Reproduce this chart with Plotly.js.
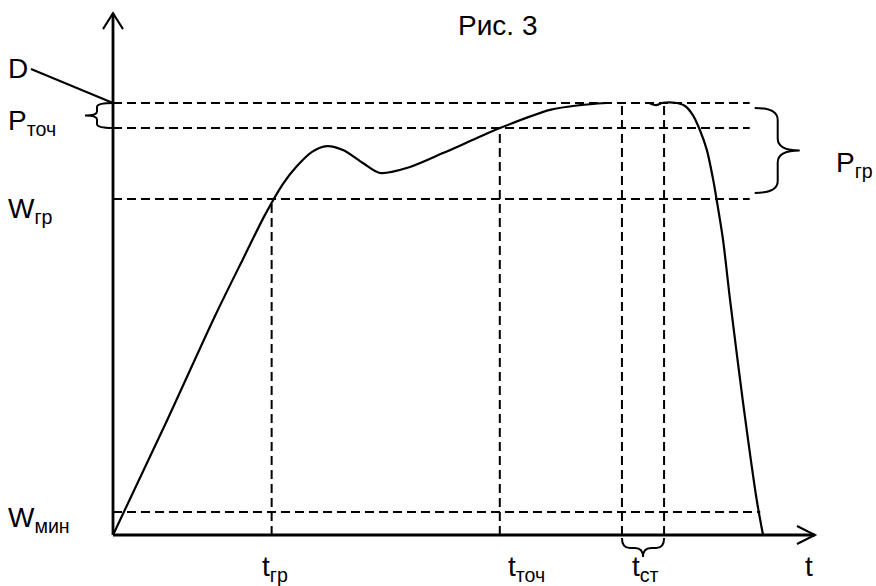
<!DOCTYPE html>
<html>
<head>
<meta charset="utf-8">
<script src="https://cdn.plot.ly/plotly-3.0.1.min.js"></script>
<style>html,body{margin:0;padding:0;background:#fff;}#chart{width:876px;height:586px;}</style>
</head>
<body>
<div id="chart"></div>
<script>
// ---- data (schematic units: t along x, W along y) ----
const curveT1 = [0, 7.41, 14.53, 18.52, 21.65, 24.22, 26.21, 28.35, 30.48, 32.76, 35.61, 38.03, 42.31, 47.01, 51.85, 55.13, 62.25, 66.5, 70.37];
const curveW1 = [0, 25.5, 50.7, 63.9, 74.1, 81.3, 85.4, 88.7, 90.0, 89.1, 86.1, 83.8, 85.2, 88.4, 91.9, 94.2, 98.4, 99.5, 100];
const curveT2 = [76.5, 77.35, 78.35, 80.06, 81.48, 82.6, 83.6, 84.6, 85.5, 86.0, 86.9, 87.9, 89.7, 91.7, 92.6];
const curveW2 = [99.9, 99.5, 100.05, 100.05, 99.3, 97.2, 93.75, 89.1, 82.2, 77.5, 68.3, 54.4, 31.3, 8.1, 0];

const levelNames = ['D', 'P<sub>точ</sub>', 'W<sub>гр</sub>', 'W<sub>мин</sub>'];
const levelValues = [100, 94.2, 77.8, 5.3];
const levelEnds = [90.7, 90.7, 90.7, 92.2];

const timeNames = ['t<sub>гр</sub>', 't<sub>точ</sub>', 't<sub>ст</sub>', 't<sub>ст</sub>'];
const timeValues = [22.6, 55.1, 72.5, 78.5];
const timeTops = [77.8, 94.2, 100, 100];

const axisTMax = 100, axisWMax = 120.8;
const titleText = 'Рис. 3';

// ---- geometry helpers (pixel scale of the drawing) ----
const W = 876, H = 586;
const OX = 113, OY = 535;          // origin in pixels
const SX = 7.02, SY = 4.32;        // pixels per unit
const toT = px => (px - OX) / SX;
const toW = py => (OY - py) / SY;
const pxT = t => OX + t * SX;
const pyW = w => OY - w * SY;
const pt = (px, py) => toT(px) + ',' + toW(py);

const FONT = {family: 'Liberation Sans, Arial, sans-serif', size: 28, color: '#000'};
const traces = [];

// dashed guide lines
const dashLine = {color: '#000', width: 2, dash: '9px,5px'};
for (let i = 0; i < levelValues.length; i++) {
  traces.push({x: [0, levelEnds[i]], y: [levelValues[i], levelValues[i]], mode: 'lines', line: dashLine, hoverinfo: 'skip'});
}
for (let i = 0; i < timeValues.length; i++) {
  traces.push({x: [timeValues[i], timeValues[i]], y: [0, timeTops[i]], mode: 'lines', line: dashLine, hoverinfo: 'skip'});
}
// curve
const curveLine = {color: '#000', width: 2.2, shape: 'spline', smoothing: 0.8};
traces.push({x: curveT1, y: curveW1, mode: 'lines', line: curveLine, hoverinfo: 'skip'});
traces.push({x: curveT2, y: curveW2, mode: 'lines', line: curveLine, hoverinfo: 'skip'});

// axes with open arrowheads
const axisLine = {color: '#000', width: 2.8};
traces.push({x: [0, 0], y: [0, axisWMax], mode: 'lines', line: axisLine, hoverinfo: 'skip'});
traces.push({x: [0, axisTMax], y: [0, 0], mode: 'lines', line: axisLine, hoverinfo: 'skip'});

const shapes = [];
const yTipX = pxT(0), yTipY = pyW(axisWMax);
shapes.push({type: 'path', xref: 'x', yref: 'y', line: {color: '#000', width: 2},
  path: 'M' + pt(yTipX - 10, yTipY + 16) + ' L' + pt(yTipX, yTipY) + ' L' + pt(yTipX + 10, yTipY + 16)});
const xTipX = pxT(axisTMax), xTipY = pyW(0);
shapes.push({type: 'path', xref: 'x', yref: 'y', line: {color: '#000', width: 2},
  path: 'M' + pt(xTipX - 18, xTipY - 9) + ' L' + pt(xTipX, xTipY) + ' L' + pt(xTipX - 18, xTipY + 9)});

// D pointer line
shapes.push({type: 'line', xref: 'x', yref: 'y', line: {color: '#000', width: 2},
  x0: toT(31), y0: toW(69), x1: 0, y1: levelValues[0]});

// vertical brace (dir -1 = points left, +1 = points right)
function vBrace(x0, yT, yB, dir, d, tip, r) {
  const yM = (yT + yB) / 2, xd = x0 + dir * d, xt = x0 + dir * (d + tip);
  return 'M' + pt(x0, yT) +
    ' Q' + pt(xd, yT) + ' ' + pt(xd, yT + r) +
    ' L' + pt(xd, yM - r) +
    ' Q' + pt(xd, yM) + ' ' + pt(xt, yM) +
    ' Q' + pt(xd, yM) + ' ' + pt(xd, yM + r) +
    ' L' + pt(xd, yB - r) +
    ' Q' + pt(xd, yB) + ' ' + pt(x0, yB);
}
// horizontal brace pointing down
function hBrace(xL, xR, y0, d, tip, r) {
  const xM = (xL + xR) / 2, yd = y0 + d, yt = y0 + d + tip;
  return 'M' + pt(xL, y0) +
    ' Q' + pt(xL, yd) + ' ' + pt(xL + r, yd) +
    ' L' + pt(xM - r, yd) +
    ' Q' + pt(xM, yd) + ' ' + pt(xM, yt) +
    ' Q' + pt(xM, yd) + ' ' + pt(xM + r, yd) +
    ' L' + pt(xR - r, yd) +
    ' Q' + pt(xR, yd) + ' ' + pt(xR, y0);
}
const braceLine = {color: '#000', width: 2};
shapes.push({type: 'path', xref: 'x', yref: 'y', line: braceLine,
  path: vBrace(pxT(0), pyW(levelValues[0]), pyW(levelValues[1]), -1, 16, 12, 4)});
shapes.push({type: 'path', xref: 'x', yref: 'y', line: braceLine,
  path: vBrace(pxT(levelEnds[0]) + 5, pyW(levelValues[0]) + 5, pyW(levelValues[2]) - 6, 1, 23, 22, 12)});
shapes.push({type: 'path', xref: 'x', yref: 'y', line: braceLine,
  path: hBrace(pxT(timeValues[2]), pxT(timeValues[3]), pyW(0) + 3, 10, 9, 8)});

// text labels
const annotations = [];
const addText = (text, px, py, xanchor) => annotations.push({
  text: text, x: toT(px), y: toW(py), xref: 'x', yref: 'y', showarrow: false,
  xanchor: xanchor || 'center', yanchor: 'middle', font: FONT});
addText(titleText, 497, 25);
const levelLabelY = [68, 122, 210, 519];
for (let i = 0; i < levelNames.length; i++) addText(levelNames[i], 6, levelLabelY[i], 'left');
addText('P<sub>гр</sub>', 834, 164, 'left');
const timeLabelX = [275, 526, 645];
for (let i = 0; i < 3; i++) addText(timeNames[i], timeLabelX[i], 568);
addText('t', pxT(axisTMax) - 6, 566);

const layout = {
  width: W, height: H, margin: {l: 0, r: 0, t: 0, b: 0},
  paper_bgcolor: '#fff', plot_bgcolor: '#fff', showlegend: false,
  xaxis: {range: [toT(0), toT(W)], visible: false, fixedrange: true},
  yaxis: {range: [toW(H), toW(0)], visible: false, fixedrange: true},
  shapes: shapes, annotations: annotations
};
Plotly.newPlot('chart', traces, layout, {staticPlot: true});
</script>
</body>
</html>
